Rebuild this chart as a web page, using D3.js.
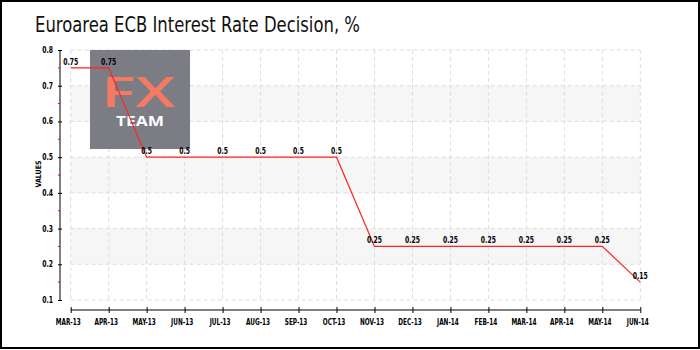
<!DOCTYPE html>
<html><head><meta charset="utf-8">
<script src="https://cdn.jsdelivr.net/npm/d3@7"></script>
<style>body{margin:0;background:#fff}svg{display:block}</style>
</head><body>
<svg id="c" width="700" height="350"></svg>
<script>
const months = ["MAR-13","APR-13","MAY-13","JUN-13","JUL-13","AUG-13","SEP-13","OCT-13","NOV-13","DEC-13","JAN-14","FEB-14","MAR-14","APR-14","MAY-14","JUN-14"];
const rates = [0.75,0.75,0.5,0.5,0.5,0.5,0.5,0.5,0.25,0.25,0.25,0.25,0.25,0.25,0.25,0.15];
const yTicks = [0.1,0.2,0.3,0.4,0.5,0.6,0.7,0.8];
const yMinorTicks = [0.15,0.25,0.35,0.45,0.55,0.65,0.75];
const bands = [[0.2,0.3],[0.4,0.5],[0.6,0.7]];
const title = "Euroarea ECB Interest Rate Decision, %";

const svg = d3.select("#c");
const x = d3.scalePoint().domain(months).range([70.7, 640.3]);
const y = d3.scaleLinear().domain([0.1, 0.8]).range([300, 50]);
const tickFont = "'DejaVu Sans Condensed', sans-serif";

function squeeze(sel, k) {
  sel.each(function(){
    const w = this.getComputedTextLength();
    d3.select(this).attr("textLength", w*k).attr("lengthAdjust","spacingAndGlyphs");
  });
}

svg.append("rect").attr("x",1).attr("y",1).attr("width",698).attr("height",347)
  .attr("fill","#fff").attr("stroke","#000").attr("stroke-width",2);

svg.append("text").attr("x",35).attr("y",32).text(title)
  .attr("font-family","'DejaVu Sans Condensed', sans-serif").attr("font-size",21)
  .attr("textLength",325).attr("lengthAdjust","spacingAndGlyphs").attr("fill","#111");

// bands
svg.selectAll("rect.band").data(bands).join("rect").attr("class","band")
  .attr("x", x(months[0])).attr("width", x(months[months.length-1]) - x(months[0]))
  .attr("y", d => y(d[1])).attr("height", d => y(d[0]) - y(d[1]))
  .attr("fill","#f6f6f6");

// grid
svg.selectAll("line.hg").data(yTicks).join("line").attr("class","hg")
  .attr("x1", x(months[0])).attr("x2", x(months[months.length-1]))
  .attr("y1", d => y(d)).attr("y2", d => y(d))
  .attr("stroke","#ddd").attr("stroke-dasharray","4,3");
svg.selectAll("line.vg").data(months).join("line").attr("class","vg")
  .attr("x1", d => x(d)).attr("x2", d => x(d))
  .attr("y1", y(0.8)).attr("y2", y(0.1))
  .attr("stroke","#ddd").attr("stroke-dasharray","4,3");

// logo
const logo = svg.append("g");
logo.append("rect").attr("x",90).attr("y",50).attr("width",100).attr("height",99)
  .attr("fill","#75757e").attr("opacity",0.95);
logo.append("text").attr("x",101.5).attr("y",107)
  .attr("font-family","'Open Sans', sans-serif").attr("font-weight",600).attr("font-size",42)
  .attr("textLength",74).attr("lengthAdjust","spacingAndGlyphs")
  .attr("fill","#f47a62").text("FX");
logo.append("text").attr("x",116).attr("y",126)
  .attr("font-family","'Open Sans', sans-serif").attr("font-weight",700).attr("font-size",14)
  .attr("textLength",48).attr("lengthAdjust","spacingAndGlyphs")
  .attr("fill","#fff").text("TEAM");

// y axis
const yAxis = d3.axisLeft(y).tickValues(yTicks).tickFormat(d3.format(".1f")).tickSize(4).tickPadding(3);
const gy = svg.append("g").attr("transform","translate(60,0)").call(yAxis);
gy.select(".domain").attr("d","M0,"+y(0.8)+"V"+y(0.1)).attr("stroke","#000");
gy.selectAll(".tick line").attr("x1",2).attr("x2",-2).attr("stroke","#000");
gy.selectAll("text").attr("font-family",tickFont).attr("font-weight","bold").attr("font-size",8).attr("fill","#000");
squeeze(gy.selectAll("text"), 0.85);
gy.selectAll("line.minor").data(yMinorTicks).join("line").attr("class","minor")
  .attr("x1",-2).attr("x2",0).attr("y1",d=>y(d)).attr("y2",d=>y(d)).attr("stroke","#e00");

const vl = svg.append("text").attr("transform","translate(41,174) rotate(-90)")
  .attr("text-anchor","middle").attr("font-family",tickFont).attr("font-weight","bold")
  .attr("font-size",7.5).attr("fill","#000").text("VALUES");
vl.attr("textLength",27).attr("lengthAdjust","spacingAndGlyphs");

// x axis
const xAxis = d3.axisBottom(x).tickSize(0).tickPadding(9);
const gx = svg.append("g").attr("transform","translate(0,310)").call(xAxis);
gx.select(".domain").attr("d","M"+x(months[0])+",0H"+x(months[months.length-1])).attr("stroke","#000");
gx.selectAll(".tick line").attr("y1",-3).attr("y2",3).attr("stroke","#000");
gx.selectAll("text").attr("font-family",tickFont).attr("font-weight","bold").attr("font-size",8).attr("fill","#000").attr("dx",-3);
squeeze(gx.selectAll("text"), 0.8);

// line
const line = d3.line().x((d,i)=>x(months[i])).y(d=>y(d));
svg.append("path").datum(rates).attr("d",line).attr("fill","none").attr("stroke","#f22").attr("stroke-width",1.2);

const lbl = svg.selectAll("text.lbl").data(rates).join("text").attr("class","lbl")
  .attr("x",(d,i)=>x(months[i])).attr("y",d=>y(d)-3).attr("text-anchor","middle")
  .attr("font-family",tickFont).attr("font-weight","bold").attr("font-size",8).attr("fill","#000").text(d=>String(d));
squeeze(lbl, 0.85);
</script>
</body></html>
